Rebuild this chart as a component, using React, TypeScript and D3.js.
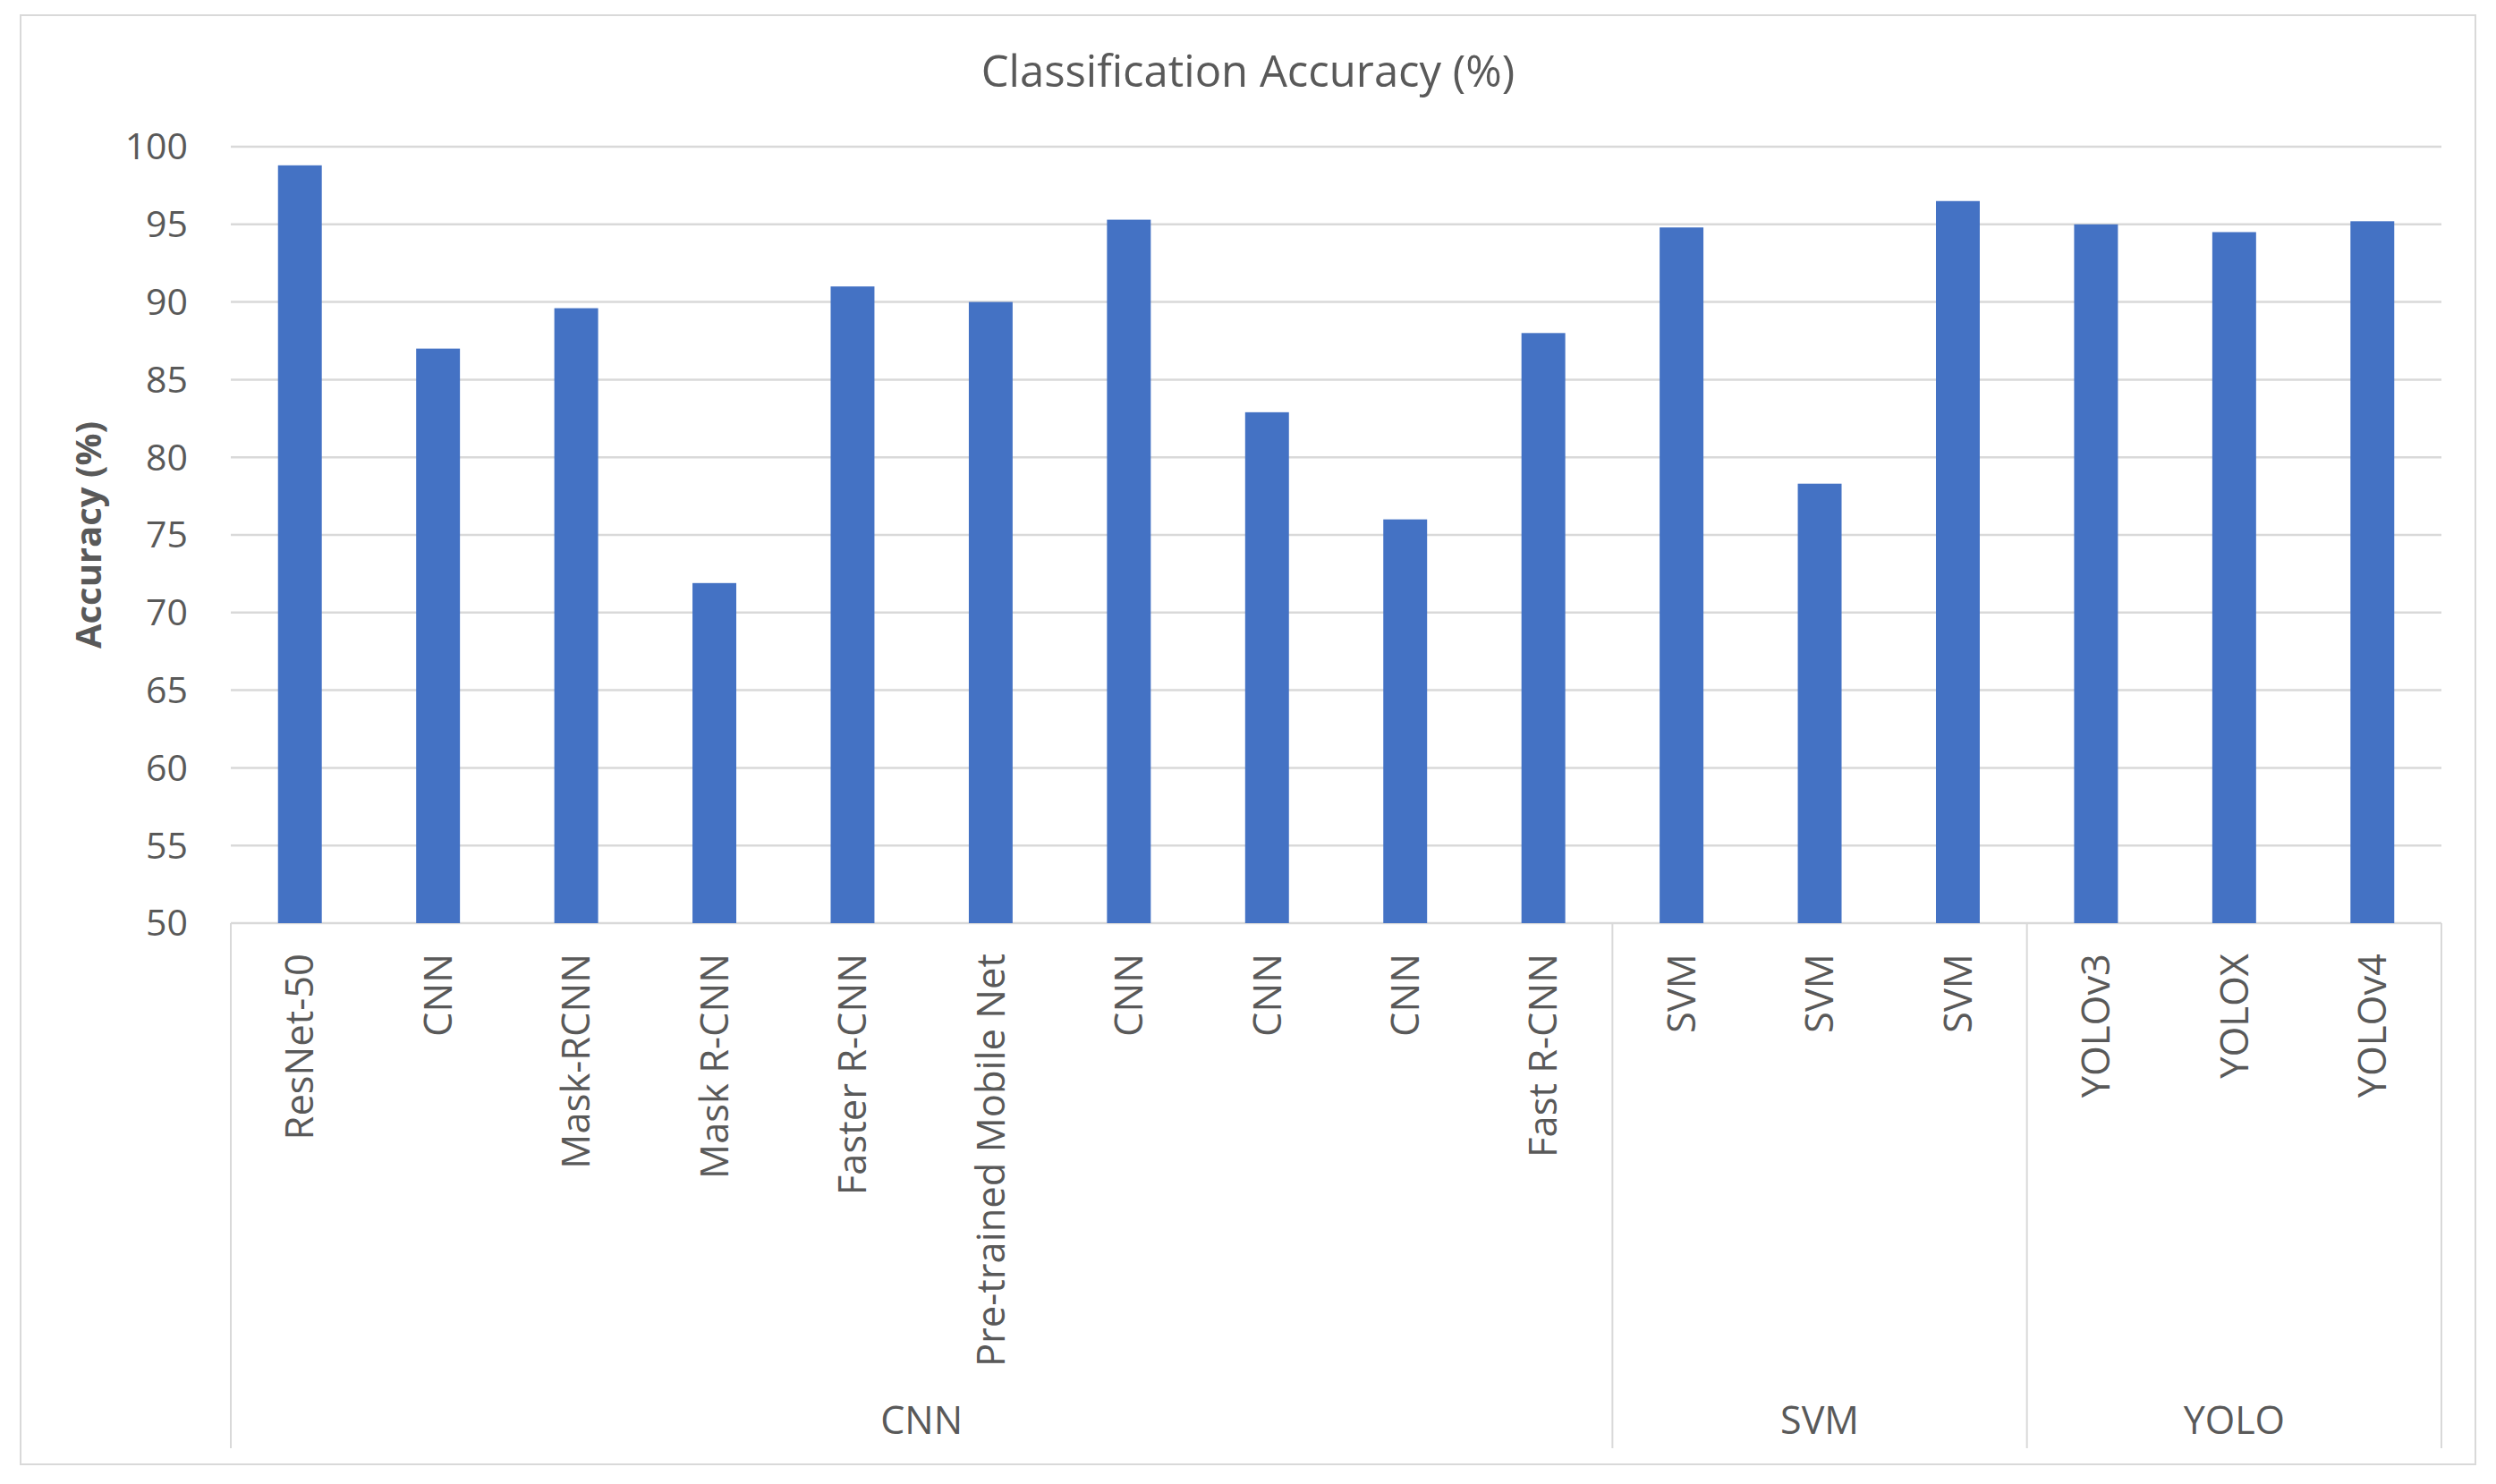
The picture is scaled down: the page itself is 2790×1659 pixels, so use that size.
import * as d3 from "d3";
import React from "react";

// chart data
const models = [
  "ResNet-50",
  "CNN",
  "Mask-RCNN",
  "Mask R-CNN",
  "Faster R-CNN",
  "Pre-trained Mobile Net",
  "CNN",
  "CNN",
  "CNN",
  "Fast R-CNN",
  "SVM",
  "SVM",
  "SVM",
  "YOLOv3",
  "YOLOX",
  "YOLOv4",
];
const accuracy = [98.8, 87.0, 89.6, 71.9, 91.0, 90.0, 95.3, 82.9, 76.0, 88.0, 94.8, 78.3, 96.5, 95.0, 94.5, 95.2];
const families = ["CNN", "SVM", "YOLO"];
const familySize = [10, 3, 3];
const yTicks = [50, 55, 60, 65, 70, 75, 80, 85, 90, 95, 100];

const width = 2790;
const height = 1659;
const plot = { left: 258, right: 2729, top: 164, bottom: 1032 };
const axisBottom = 1619;

const textColor = "#595959";
const lineColor = "#d9d9d9";
const barColor = "#4472C4";
const font = "'Open Sans', 'Noto Sans', sans-serif";

const App = () => {
  const x = d3
    .scaleBand<number>()
    .domain(d3.range(models.length))
    .range([plot.left, plot.right])
    .paddingInner(0.683)
    .paddingOuter(0.683 / 2);

  const y = d3.scaleLinear().domain([50, 100]).range([plot.bottom, plot.top]);

  // group boundaries along the category axis
  const starts = familySize.map((_, i) => d3.sum(familySize.slice(0, i)));
  const edge = (i: number) => plot.left + i * x.step();

  return (
    <svg
      width={width}
      height={height}
      style={{ position: "absolute", left: 0, top: 0, background: "#fff" }}
      fontFamily={font}
    >
      <rect x={0} y={0} width={width} height={height} fill="#fff" />
      <rect x={23} y={17} width={2744} height={1620} fill="none" stroke={lineColor} strokeWidth={2} />

      <text x={1395} y={97} textAnchor="middle" fontSize={49} fill={textColor}>
        Classification Accuracy (%)
      </text>

      {/* gridlines */}
      {yTicks.map((t) => (
        <g key={t}>
          <line x1={plot.left} x2={plot.right} y1={y(t)} y2={y(t)} stroke={lineColor} strokeWidth={2.5} />
          <text x={210} y={y(t)} dy="0.35em" textAnchor="end" fontSize={41} fill={textColor}>
            {t}
          </text>
        </g>
      ))}

      <text
        transform={`translate(113, ${(plot.top + plot.bottom) / 2}) rotate(-90)`}
        textAnchor="middle"
        fontSize={40}
        fontWeight="bold"
        fill={textColor}
      >
        Accuracy (%)
      </text>

      {/* bars */}
      {accuracy.map((v, i) => (
        <rect key={i} x={x(i)} y={y(v)} width={x.bandwidth()} height={y(50) - y(v)} fill={barColor} />
      ))}

      {/* category axis */}
      {[0, ...starts.slice(1), models.length].map((s) => (
        <line key={s} x1={edge(s)} x2={edge(s)} y1={plot.bottom} y2={axisBottom} stroke={lineColor} strokeWidth={2} />
      ))}

      {models.map((m, i) => (
        <text
          key={i}
          transform={`translate(${(x(i) as number) + x.bandwidth() / 2}, 1066) rotate(-90)`}
          dy="0.35em"
          textAnchor="end"
          fontSize={43.5}
          fill={textColor}
        >
          {m}
        </text>
      ))}

      {families.map((f, i) => (
        <text
          key={f}
          x={(edge(starts[i]) + edge(starts[i] + familySize[i])) / 2}
          y={1603}
          textAnchor="middle"
          fontSize={43}
          fill={textColor}
        >
          {f}
        </text>
      ))}
    </svg>
  );
};

export default App;
